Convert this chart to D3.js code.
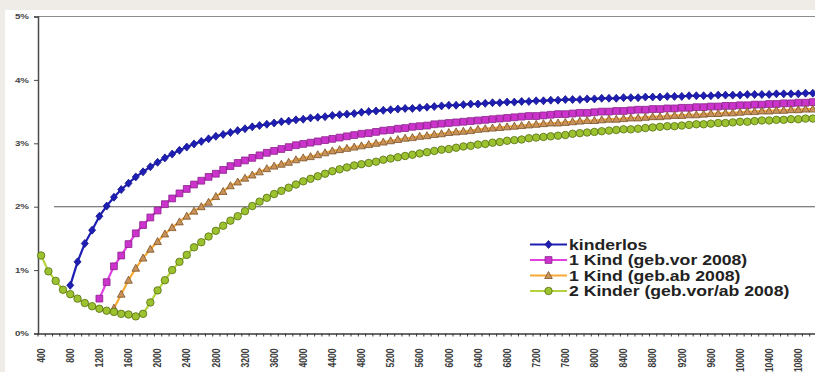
<!DOCTYPE html>
<html><head><meta charset="utf-8">
<script src="https://cdn.jsdelivr.net/npm/d3@7"></script>
<style>html,body{margin:0;padding:0;background:#efebe6;}svg{display:block}</style>
</head><body>
<svg id="c" width="815" height="372"></svg>
<script>
// ---- data ----
const categories = d3.range(400, 11001, 100);            // 400 ... 11000
const tickLabels = [400,800,1200,1600,2000,2400,2800,3200,3600,4000,4400,4800,5200,5600,6000,6400,6800,7200,7600,8000,8400,8800,9200,9600,10000,10400,10800];
const yTicks = [0,1,2,3,4,5];
const seriesNames = ["kinderlos","1 Kind (geb.vor 2008)","1 Kind (geb.ab 2008)","2 Kinder (geb.vor/ab 2008)"];

const kinderlos = [
  null,null,null,null,0.76,1.13,
  1.42,1.63,1.85,2.01,2.15,2.27,2.37,2.47,2.55,2.63,
  2.70,2.77,2.83,2.89,2.94,2.99,3.03,3.07,3.11,3.14,
  3.17,3.20,3.23,3.26,3.28,3.30,3.32,3.34,3.35,3.37,
  3.38,3.40,3.41,3.42,3.44,3.45,3.46,3.47,3.49,3.50,
  3.51,3.52,3.53,3.54,3.55,3.55,3.56,3.57,3.58,3.59,
  3.60,3.60,3.61,3.62,3.62,3.63,3.64,3.64,3.65,3.65,
  3.66,3.66,3.67,3.67,3.68,3.68,3.69,3.69,3.69,3.70,
  3.70,3.71,3.71,3.71,3.72,3.72,3.72,3.73,3.73,3.73,
  3.74,3.74,3.74,3.75,3.75,3.75,3.75,3.76,3.76,3.76,
  3.76,3.77,3.77,3.77,3.77,3.78,3.78,3.78,3.78,3.79,
  3.79];
const einKindVor = [
  null,null,null,null,null,null,
  null,null,0.55,0.81,1.06,1.23,1.41,1.58,1.71,1.83,
  1.94,2.04,2.13,2.21,2.28,2.35,2.41,2.47,2.52,2.58,
  2.64,2.69,2.73,2.77,2.81,2.85,2.88,2.91,2.94,2.97,
  2.99,3.01,3.03,3.05,3.07,3.09,3.11,3.13,3.15,3.16,
  3.18,3.20,3.21,3.23,3.24,3.26,3.27,3.28,3.30,3.31,
  3.32,3.33,3.34,3.35,3.36,3.37,3.38,3.39,3.40,3.41,
  3.42,3.43,3.43,3.44,3.45,3.46,3.46,3.47,3.48,3.48,
  3.49,3.50,3.50,3.51,3.51,3.52,3.53,3.53,3.54,3.54,
  3.55,3.55,3.56,3.56,3.57,3.57,3.58,3.58,3.59,3.59,
  3.60,3.60,3.61,3.61,3.62,3.62,3.63,3.63,3.64,3.64,
  3.65];
const einKindAb = [
  null,null,null,null,null,null,
  null,null,null,null,0.40,0.62,0.84,1.03,1.19,1.33,
  1.45,1.57,1.67,1.76,1.85,1.93,2.00,2.07,2.16,2.24,
  2.33,2.39,2.45,2.50,2.55,2.60,2.64,2.67,2.70,2.74,
  2.77,2.79,2.82,2.85,2.88,2.90,2.92,2.94,2.96,2.98,
  3.00,3.02,3.04,3.06,3.08,3.09,3.11,3.12,3.14,3.15,
  3.17,3.18,3.19,3.20,3.22,3.23,3.24,3.25,3.26,3.27,
  3.28,3.29,3.30,3.31,3.32,3.32,3.33,3.34,3.35,3.36,
  3.36,3.37,3.38,3.38,3.39,3.40,3.40,3.41,3.42,3.42,
  3.43,3.44,3.44,3.45,3.45,3.46,3.47,3.47,3.48,3.48,
  3.49,3.50,3.50,3.51,3.51,3.52,3.52,3.53,3.53,3.54,
  3.54];
const zweiKinder = [
  1.23,0.98,0.83,0.69,0.62,0.55,
  0.48,0.43,0.39,0.36,0.34,0.31,0.30,0.27,0.31,0.49,
  0.68,0.84,1.00,1.13,1.24,1.36,1.44,1.53,1.62,1.70,
  1.78,1.85,1.93,2.01,2.08,2.14,2.20,2.25,2.30,2.35,
  2.40,2.44,2.48,2.52,2.56,2.59,2.62,2.65,2.67,2.69,
  2.71,2.74,2.76,2.78,2.80,2.82,2.84,2.86,2.88,2.90,
  2.91,2.93,2.95,2.96,2.98,2.99,3.01,3.02,3.04,3.05,
  3.06,3.08,3.09,3.10,3.11,3.12,3.13,3.15,3.16,3.17,
  3.18,3.19,3.20,3.21,3.22,3.22,3.23,3.24,3.25,3.26,
  3.27,3.27,3.28,3.29,3.30,3.30,3.31,3.32,3.32,3.33,
  3.34,3.34,3.35,3.36,3.36,3.37,3.37,3.38,3.38,3.39,
  3.39];
const referenceLine = 2;

// ---- drawing ----
const svg = d3.select('#c');
svg.append('rect').attr('x',5).attr('y',10).attr('width',810).attr('height',362).attr('fill','#ffffff');

const step = 7.28;
const x = d3.scaleBand().domain(categories).range([37.5, 37.5 + step*categories.length]);
const xc = c => x(c) + x.bandwidth()/2;
const xEdge = d3.scaleLinear().domain([0, categories.length]).range(x.range());
const y = d3.scaleLinear().domain([0,5]).range([333.5,16.5]);

// top border and 2% line
svg.append('line').attr('x1',38).attr('x2',815).attr('y1',y(5)).attr('y2',y(5))
   .attr('stroke','#8c8c8c').attr('stroke-width',1.2);
svg.append('line').attr('x1',x(600)+2).attr('x2',815).attr('y1',y(referenceLine)).attr('y2',y(referenceLine))
   .attr('stroke','#5a5a5a').attr('stroke-width',1.1);

// y axis
const gy = svg.append('g').attr('transform','translate(38,0)')
  .call(d3.axisLeft(y).tickValues(yTicks).tickSize(4).tickFormat(''));
gy.select('.domain').attr('stroke','#4a4a4a').attr('stroke-width',1.5);
gy.selectAll('.tick line').attr('stroke','#4a4a4a');
svg.append('g').selectAll('text').data(yTicks).join('text')
  .attr('transform', d => `translate(29,${y(d)}) scale(1.3,1)`)
  .attr('dy','0.35em').attr('text-anchor','end')
  .attr('font-family','Liberation Sans, Arial, sans-serif').attr('font-weight','bold')
  .attr('font-size','7.5px').attr('fill','#444').text(d => d + '%');

// x axis ticks
const gxt = svg.append('g').attr('transform',`translate(0,${y(0)})`)
  .call(d3.axisBottom(xEdge).tickValues(d3.range(0, categories.length+1)).tickSize(3).tickFormat('').tickSizeOuter(0));
gxt.select('.domain').attr('stroke','#3a3a3a').attr('stroke-width',1.5);
gxt.selectAll('.tick line').attr('stroke','#3a3a3a');
// x axis labels
const gx = svg.append('g').attr('transform',`translate(0,${y(0)})`)
  .call(d3.axisBottom(x).tickValues(tickLabels).tickSize(0).tickFormat(d => String(d)));
gx.select('.domain').remove();
gx.selectAll('text')
  .attr('transform','rotate(-90) scale(1,1.25)').attr('x',-15).attr('y',0).attr('dy','0.35em')
  .attr('text-anchor','end')
  .attr('font-family','Liberation Sans, Arial, sans-serif').attr('font-weight','bold')
  .attr('font-size','8.5px').attr('fill','#3a3a3a');

// series
const symbols = {
  diamond: 'M0,-4L3.5,0L0,4L-3.5,0Z',
  square: 'M-3.4,-3.4H3.4V3.4H-3.4Z',
  triangle: 'M0,-4L3.8,3H-3.8Z',
  circle: d3.symbol(d3.symbolCircle, 44)()
};
const series = [
  {name: seriesNames[0], values: kinderlos, line:'#1e1eb4', lw:2.2, sym:'diamond', fill:'#1e1eb4', stroke:'#14148a'},
  {name: seriesNames[1], values: einKindVor, line:'#e040e0', lw:2.2, sym:'square', fill:'#cc33cc', stroke:'#8a1f8a'},
  {name: seriesNames[2], values: einKindAb, line:'#f7a935', lw:2.2, sym:'triangle', fill:'#c99258', stroke:'#7a5028'},
  {name: seriesNames[3], values: zweiKinder, line:'#b4d23c', lw:2.2, sym:'circle', fill:'#9cc230', stroke:'#556f10'}
];
const lineGen = d3.line().defined(d => d.v != null).x(d => xc(d.c)).y(d => y(d.v));
series.forEach(s => {
  const pts = categories.map((c,i) => ({c, v: s.values[i]}));
  const g = svg.append('g');
  g.append('path').attr('d', lineGen(pts)).attr('fill','none')
    .attr('stroke', s.line).attr('stroke-width', s.lw).attr('stroke-linejoin','round');
  g.selectAll('path.m').data(pts.filter(d => d.v != null)).join('path').attr('class','m')
    .attr('d', symbols[s.sym])
    .attr('transform', d => `translate(${xc(d.c)},${y(d.v)})`)
    .attr('fill', s.fill).attr('stroke', s.stroke).attr('stroke-width',0.8);
});

// legend
const legY = [244.5, 260, 275.5, 291];
const lg = svg.append('g');
series.forEach((s,i) => {
  const gy2 = legY[i];
  lg.append('line').attr('x1',530).attr('x2',567).attr('y1',gy2).attr('y2',gy2)
    .attr('stroke', s.line).attr('stroke-width',2.2);
  lg.append('path').attr('d', symbols[s.sym]).attr('transform',`translate(548.5,${gy2})`)
    .attr('fill', s.fill).attr('stroke', s.stroke).attr('stroke-width',0.8);
  lg.append('text').attr('transform',`translate(569,${gy2}) scale(1.26,1)`)
    .attr('dy','0.36em')
    .attr('font-family','Liberation Sans, Arial, sans-serif').attr('font-weight','bold')
    .attr('font-size','14px').attr('fill','#222').text(s.name);
});
</script>
</body></html>
